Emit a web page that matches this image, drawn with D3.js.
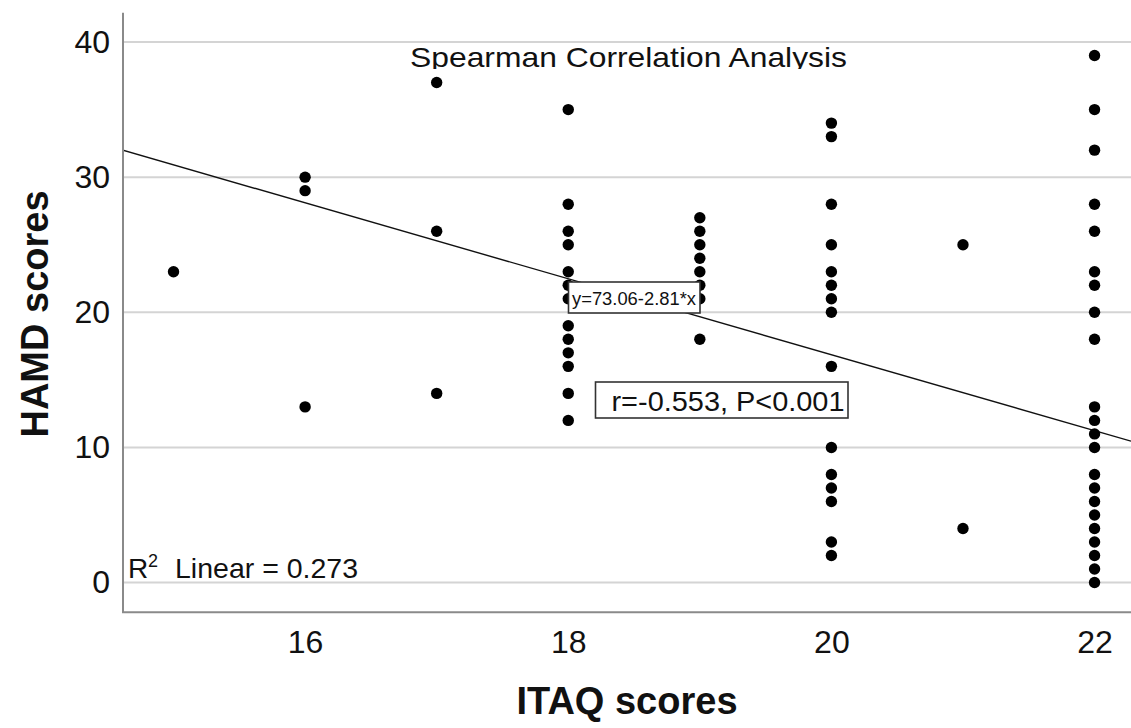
<!DOCTYPE html>
<html>
<head>
<meta charset="utf-8">
<script src="https://cdn.jsdelivr.net/npm/d3@7"></script>
<style>
  html, body { margin: 0; padding: 0; background: #fff; }
  svg { display: block; font-family: "Liberation Sans", Arial, sans-serif; }
</style>
</head>
<body>
<svg id="chart" width="1131" height="728"></svg>
<script>
// ITAQ score levels and the HAMD scores observed at each level
const itaqLevels = [15, 16, 17, 18, 19, 20, 21, 22];
const hamdByItaq = [
  [23],
  [30, 29, 13],
  [37, 26, 14],
  [35, 28, 26, 25, 23, 22, 21, 19, 18, 17, 16, 14, 12],
  [27, 26, 25, 24, 23, 22, 21, 18],
  [34, 33, 28, 25, 23, 22, 21, 20, 16, 10, 8, 7, 6, 3, 2],
  [25, 4],
  [39, 35, 32, 28, 26, 23, 22, 20, 18, 13, 12, 11, 10, 8, 7, 6, 5, 4, 3, 2, 1, 0]
];
const xTicks = [16, 18, 20, 22];
const yTicks = [0, 10, 20, 30, 40];
const fitIntercept = 73.06;
const fitSlope = -2.81;
const rSquared = 0.273;

const points = [];
itaqLevels.forEach((lv, i) => hamdByItaq[i].forEach(v => points.push({ x: lv, y: v })));

const svg = d3.select('#chart');
const L = 123, R = 1131, T = 12.7, B = 612.3;

const x = d3.scaleLinear().domain([14.616, 22.277]).range([L, R]);
const y = d3.scaleLinear().domain([-2.2, 42.17]).range([B, T]);

// gridlines
svg.append('g').selectAll('line').data(yTicks).join('line')
  .attr('x1', L).attr('x2', R)
  .attr('y1', d => y(d)).attr('y2', d => y(d))
  .attr('stroke', '#d4d4d4').attr('stroke-width', 2);

// axes (no tick marks, just labels)
const yAxis = svg.append('g').attr('transform', `translate(${L},0)`)
  .call(d3.axisLeft(y).tickValues(yTicks).tickSize(0).tickPadding(13));
const xAxis = svg.append('g').attr('transform', `translate(0,${B})`)
  .call(d3.axisBottom(x).tickValues(xTicks).tickSize(0).tickPadding(18));
[yAxis, xAxis].forEach(a => {
  a.select('.domain').remove();
  a.selectAll('text').attr('font-size', 32).attr('fill', '#111')
    .attr('font-family', '"Liberation Sans", Arial, sans-serif');
});

svg.append('line').attr('x1', L).attr('x2', L).attr('y1', T).attr('y2', B)
  .attr('stroke', '#8a8a8a').attr('stroke-width', 2);
svg.append('line').attr('x1', L - 1).attr('x2', R).attr('y1', B).attr('y2', B)
  .attr('stroke', '#8a8a8a').attr('stroke-width', 2);

// clip for plot area
svg.append('clipPath').attr('id', 'plotclip').append('rect')
  .attr('x', L + 1).attr('y', T).attr('width', R - L).attr('height', B - T);

// fit line
const xd = x.domain();
svg.append('line').attr('clip-path', 'url(#plotclip)')
  .attr('x1', x(xd[0])).attr('y1', y(fitIntercept + fitSlope * xd[0]))
  .attr('x2', x(xd[1])).attr('y2', y(fitIntercept + fitSlope * xd[1]))
  .attr('stroke', '#111').attr('stroke-width', 1.4);

// points
svg.append('g').selectAll('circle').data(points).join('circle')
  .attr('cx', d => x(d.x)).attr('cy', d => y(d.y)).attr('r', 5.7)
  .attr('fill', '#000');

// title, clipped at bottom like the original
svg.append('clipPath').attr('id', 'titleclip').append('rect')
  .attr('x', 0).attr('y', 0).attr('width', 1131).attr('height', 69);
svg.append('text').attr('clip-path', 'url(#titleclip)')
  .attr('x', 628.5).attr('y', 67).attr('text-anchor', 'middle')
  .attr('font-size', 28).attr('textLength', 437).attr('lengthAdjust', 'spacingAndGlyphs')
  .attr('fill', '#111').text('Spearman Correlation Analysis');

// equation box
const eq = svg.append('g');
eq.append('rect').attr('x', 568.5).attr('y', 282).attr('width', 131.5).attr('height', 31)
  .attr('fill', '#fff').attr('stroke', '#333').attr('stroke-width', 1.6);
eq.append('text').attr('x', 634).attr('y', 305).attr('text-anchor', 'middle')
  .attr('font-size', 18).attr('textLength', 124).attr('lengthAdjust', 'spacingAndGlyphs')
  .attr('fill', '#111').text('y=73.06-2.81*x');

// r / P box
const rb = svg.append('g');
rb.append('rect').attr('x', 595.5).attr('y', 382).attr('width', 252.5).attr('height', 36)
  .attr('fill', '#fff').attr('stroke', '#333').attr('stroke-width', 1.6);
rb.append('text').attr('x', 611.5).attr('y', 411).attr('font-size', 28)
  .attr('textLength', 233).attr('lengthAdjust', 'spacingAndGlyphs')
  .attr('fill', '#111').text('r=-0.553, P<0.001');

// R² label
const r2 = svg.append('text').attr('x', 128).attr('y', 578).attr('font-size', 28).attr('fill', '#111');
r2.append('tspan').text('R');
r2.append('tspan').attr('x', 148).attr('dy', -11).attr('font-size', 18).text('2');
r2.append('tspan').attr('x', 175).attr('dy', 11)
  .attr('textLength', 183).attr('lengthAdjust', 'spacingAndGlyphs')
  .text(`Linear = ${rSquared}`);

// axis titles
svg.append('text').attr('x', 627).attr('y', 714).attr('text-anchor', 'middle')
  .attr('font-size', 38).attr('font-weight', 'bold').attr('fill', '#111').text('ITAQ scores');
svg.append('text').attr('transform', 'translate(48,314) rotate(-90)').attr('text-anchor', 'middle')
  .attr('font-size', 38).attr('font-weight', 'bold').attr('fill', '#111').text('HAMD scores');
</script>
</body>
</html>
